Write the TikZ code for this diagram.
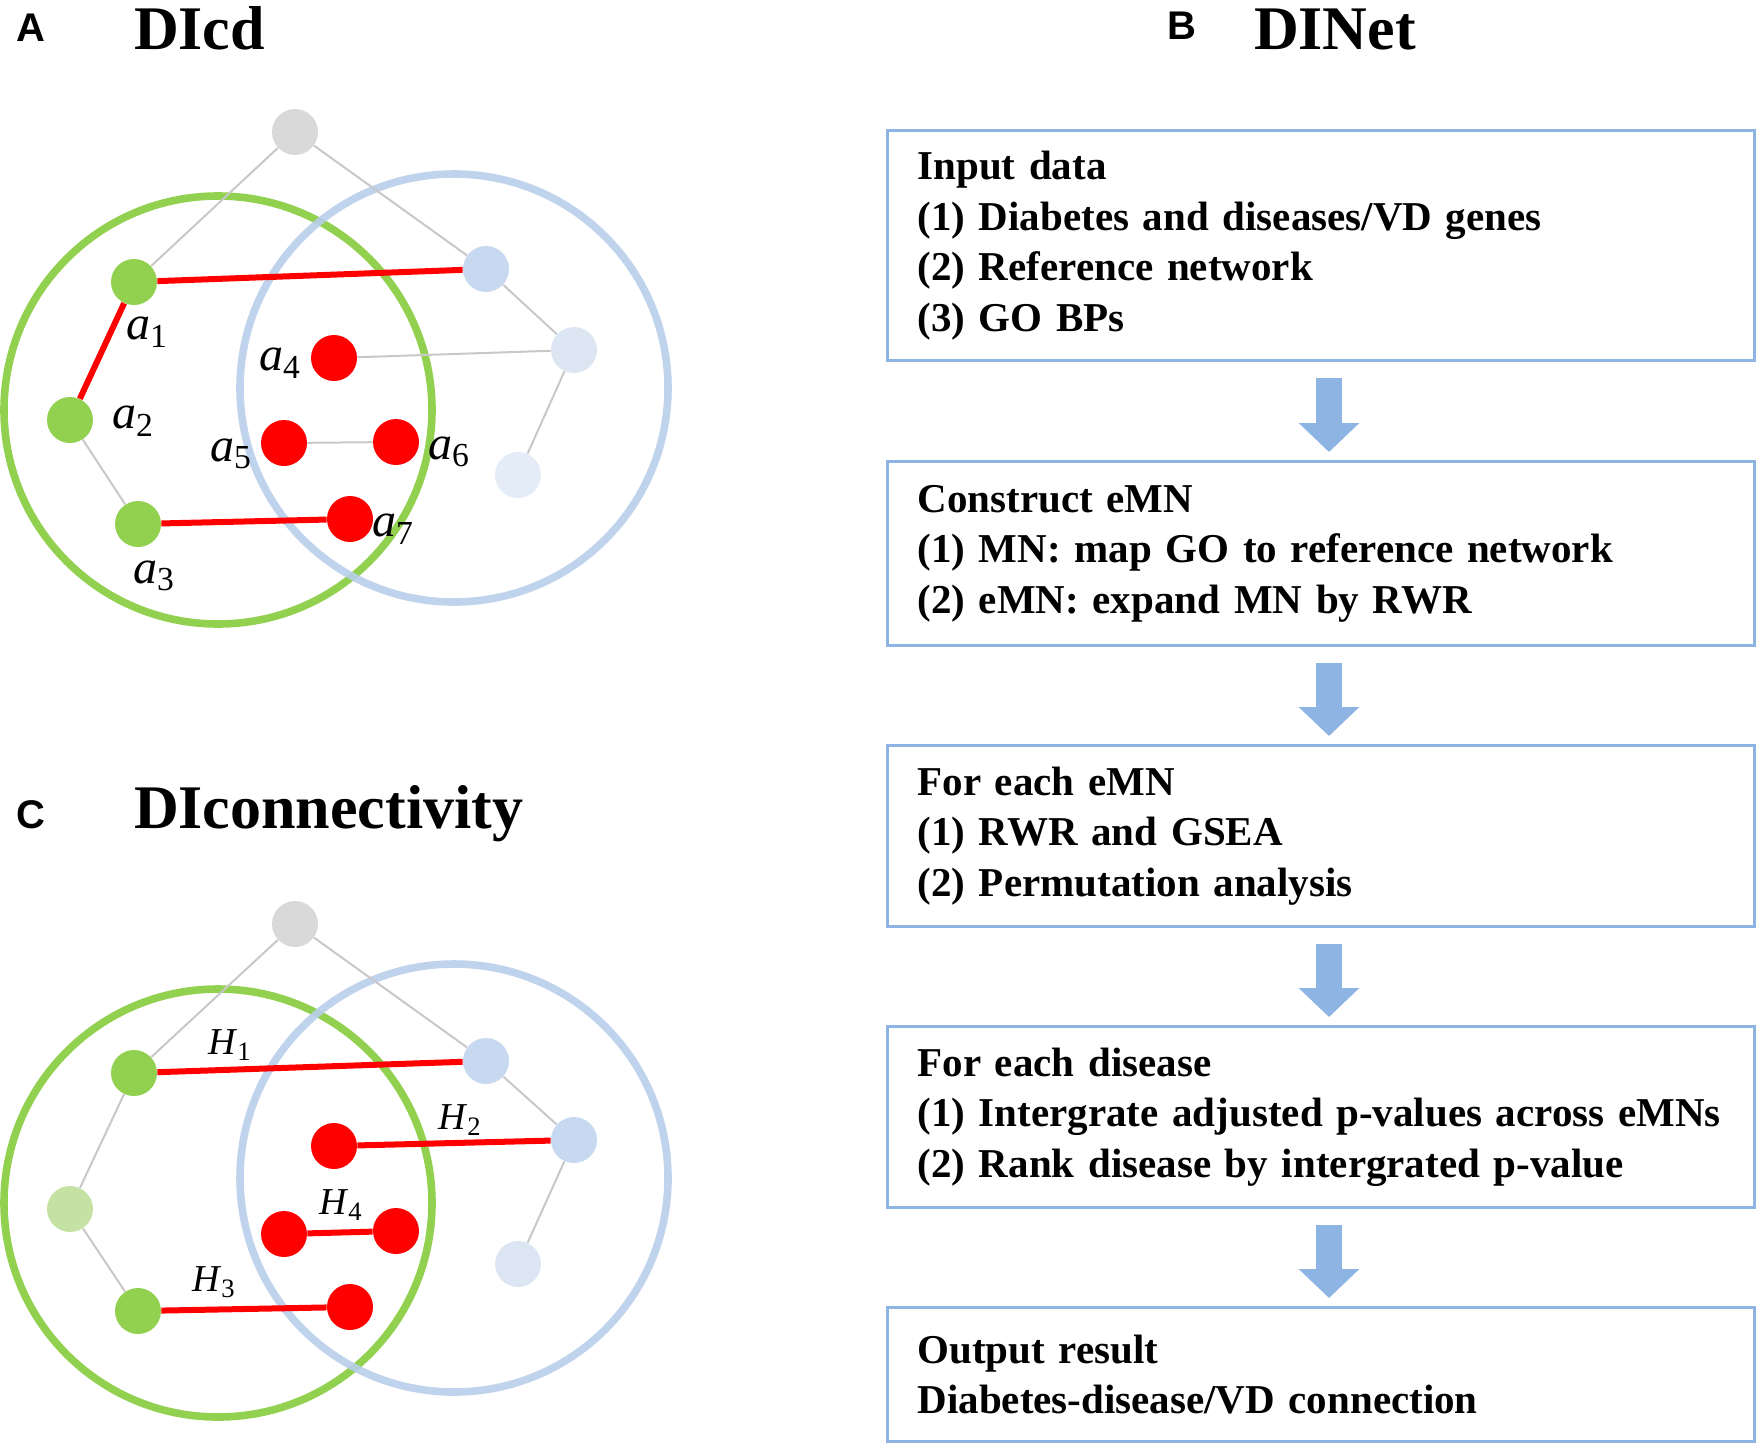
\documentclass[tikz,border=0pt]{standalone}
\usepackage{fontspec}
\setmainfont{Liberation Serif}
\setsansfont{Liberation Sans}
\usetikzlibrary{arrows.meta,positioning}
\definecolor{setgreen}{RGB}{146,208,80}
\definecolor{palegreen}{RGB}{197,226,164}
\definecolor{setblue}{RGB}{185,206,235}
\definecolor{nodeblue}{RGB}{198,217,241}
\definecolor{paleblue}{RGB}{220,230,243}
\definecolor{faintblue}{RGB}{228,236,247}
\definecolor{topgray}{RGB}{217,217,217}
\definecolor{edgegray}{RGB}{200,200,200}
\definecolor{flowblue}{RGB}{141,180,226}
\tikzset{
    every node/.style={align=center,},
    gene/.style={circle,minimum size=23pt,inner sep=0pt,},
    ring/.style={circle,line width=3.8pt,minimum size=214pt,inner sep=0pt,},
    link/.style={draw=edgegray,line width=1pt,},
    hit/.style={draw=red,line width=3pt,},
    tag/.style={inner sep=0pt,font=\fontsize{19}{22}\selectfont,},
    genetag/.style={inner sep=0pt,font=\fontsize{24}{26}\selectfont,},
    stepbox/.style={draw=flowblue,line width=1.5pt,anchor=north west,align=left,
        text width=403.5pt,inner xsep=15pt,inner ysep=0pt,
        font=\fontsize{20.5}{25.25}\selectfont\bfseries,},
    flow/.style={draw=flowblue,line width=13pt,-{Triangle[width=29.5pt,length=14.5pt]},
        shorten <=8pt,shorten >=4pt,},
    title/.style={anchor=base west,font=\fontsize{31}{36}\selectfont\bfseries,},
    panel/.style={anchor=base west,font=\fontsize{20}{22}\selectfont\sffamily\bfseries,},
}

\begin{document}
\begin{tikzpicture}[x=0.5pt,y=-0.5pt]
        \useasboundingbox (0,0) rectangle (1759,1445);

        % panel A
        \node[panel] (labA) at (9,42) {A};
        \node[title] (dicd) at (127,50) {DIcd};

        \node[ring, draw=setgreen] (greenA) at (218,410) {};
        \node[ring, draw=setblue, draw opacity=0.9] (blueA) at (454,388) {};

        \node[gene, fill=topgray] (topA) at (295,132) {};
        \node[gene, fill=setgreen] (a1) at (134,282) {};
        \node[gene, fill=setgreen] (a2) at (70,420) {};
        \node[gene, fill=setgreen] (a3) at (138,524) {};
        \node[gene, fill=red] (a4) at (334,358) {};
        \node[gene, fill=red] (a5) at (284,443) {};
        \node[gene, fill=red] (a6) at (396,442) {};
        \node[gene, fill=red] (a7) at (350,519) {};
        \node[gene, fill=nodeblue] (b1A) at (486,269) {};
        \node[gene, fill=paleblue] (b2A) at (574,350) {};
        \node[gene, fill=faintblue] (b3A) at (518,475) {};

        \draw[link] (topA) -- (a1);
        \draw[link] (topA) -- (b1A);
        \draw[link] (b1A) -- (b2A);
        \draw[link] (b2A) -- (a4);
        \draw[link] (b2A) -- (b3A);
        \draw[link] (a2) -- (a3);
        \draw[link] (a5) -- (a6);
        \draw[hit] (a1) -- (a2);
        \draw[hit] (a1) -- (b1A);
        \draw[hit] (a3) -- (a7);

        \node[genetag] (ta1) at (147,332) {\textit{a}\textsubscript{1}};
        \node[genetag] (ta2) at (133,421) {\textit{a}\textsubscript{2}};
        \node[genetag] (ta3) at (154,576) {\textit{a}\textsubscript{3}};
        \node[genetag] (ta4) at (280,363) {\textit{a}\textsubscript{4}};
        \node[genetag] (ta5) at (231,454) {\textit{a}\textsubscript{5}};
        \node[genetag] (ta6) at (449,452) {\textit{a}\textsubscript{6}};
        \node[genetag] (ta7) at (393,529) {\textit{a}\textsubscript{7}};

        % panel C
        \node[panel] (labC) at (9,828) {C};
        \node[title] (dicon) at (127,828) {DIconnectivity};

        \node[ring, draw=setgreen] (greenC) at (218,1203) {};
        \node[ring, draw=setblue, draw opacity=0.9] (blueC) at (454,1178) {};

        \node[gene, fill=topgray] (topC) at (295,924) {};
        \node[gene, fill=setgreen] (g1) at (134,1073) {};
        \node[gene, fill=palegreen] (g2) at (70,1209) {};
        \node[gene, fill=setgreen] (g3) at (138,1311) {};
        \node[gene, fill=red] (r1) at (334,1146) {};
        \node[gene, fill=red] (r2) at (284,1234) {};
        \node[gene, fill=red] (r3) at (396,1231) {};
        \node[gene, fill=red] (r4) at (350,1307) {};
        \node[gene, fill=nodeblue] (b1C) at (486,1061) {};
        \node[gene, fill=nodeblue] (b2C) at (574,1140) {};
        \node[gene, fill=paleblue] (b3C) at (518,1264) {};

        \draw[link] (topC) -- (g1);
        \draw[link] (topC) -- (b1C);
        \draw[link] (b1C) -- (b2C);
        \draw[link] (b2C) -- (b3C);
        \draw[link] (g1) -- (g2);
        \draw[link] (g2) -- (g3);
        \draw[hit] (g1) -- (b1C);
        \draw[hit] (r1) -- (b2C);
        \draw[hit] (r2) -- (r3);
        \draw[hit] (g3) -- (r4);

        \node[tag] (th1) at (230,1045) {\textit{H}\textsubscript{1}};
        \node[tag] (th2) at (460,1120) {\textit{H}\textsubscript{2}};
        \node[tag] (th3) at (214,1282) {\textit{H}\textsubscript{3}};
        \node[tag] (th4) at (341,1205) {\textit{H}\textsubscript{4}};

        % panel B
        \node[panel] (labB) at (1160,40) {B};
        \node[title] (dinet) at (1247,50) {DINet};

        \node[stepbox, minimum height=115pt] (input) at (886,129)
            {Input data\\(1) Diabetes and diseases/VD genes\\(2) Reference network\\(3) GO BPs};
        \node[stepbox, minimum height=92pt] (construct) at (886,460)
            {Construct eMN\\(1) MN: map GO to reference network\\(2) eMN: expand MN by RWR};
        \node[stepbox, minimum height=90.5pt] (eachmn) at (886,744)
            {For each eMN\\(1) RWR and GSEA\\(2) Permutation analysis};
        \node[stepbox, minimum height=90.5pt] (eachdis) at (886,1025)
            {For each disease\\(1) Intergrate adjusted p-values across eMNs\\(2) Rank disease by intergrated p-value};
        \node[stepbox, minimum height=67pt] (output) at (886,1306)
            {Output result\\Diabetes-disease/VD connection};

        \draw[flow] ([xshift=4pt]input.south) -- ([xshift=4pt]construct.north);
        \draw[flow] ([xshift=4pt]construct.south) -- ([xshift=4pt]eachmn.north);
        \draw[flow] ([xshift=4pt]eachmn.south) -- ([xshift=4pt]eachdis.north);
        \draw[flow] ([xshift=4pt]eachdis.south) -- ([xshift=4pt]output.north);
    \end{tikzpicture}
\end{document}
